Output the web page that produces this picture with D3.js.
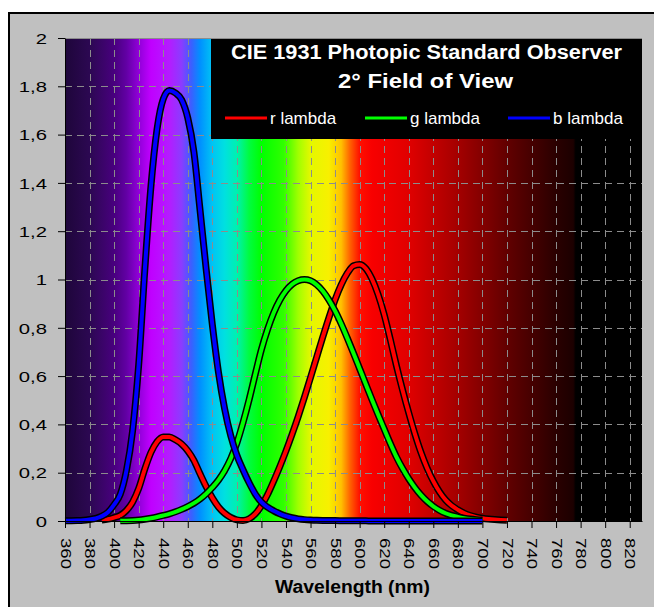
<!DOCTYPE html>
<html lang="en">

<head>
  <meta charset="utf-8">
  <title>CIE 1931 Standard Observer</title>
  <script src="https://cdn.jsdelivr.net/npm/d3@7"></script>
  <style>
    body {
      margin: 0;
      background: #ffffff;
    }

    svg text {
      font-family: "Liberation Sans", Arial, sans-serif;
    }
  </style>
</head>

<body>
  <div id="chart"></div>

  <script type="text/javascript">
    // wavelengths in nm, 5 nm steps
    var wavelengths = [360, 365, 370, 375, 380, 385, 390, 395, 400, 405, 410, 415, 420, 425, 430, 435, 440, 445,
      450, 455, 460, 465, 470, 475, 480, 485, 490, 495, 500, 505, 510, 515, 520, 525, 530, 535, 540, 545, 550, 555,
      560, 565, 570, 575, 580, 585, 590, 595, 600, 605, 610, 615, 620, 625, 630, 635, 640, 645, 650, 655, 660, 665,
      670, 675, 680, 685, 690, 695, 700, 705, 710, 715, 720];

    var rLambda = [null, null, null, null, null, null,
      0.004243, 0.007650, 0.014310, 0.023190, 0.043510, 0.077630, 0.134380, 0.214770, 0.283900, 0.328500,
      0.348280, 0.348060, 0.336200, 0.318700, 0.290800, 0.251100, 0.195360, 0.142100, 0.095640, 0.057950,
      0.032010, 0.014700, 0.004900, 0.002400, 0.009300, 0.029100, 0.063270, 0.109600, 0.165500, 0.225750,
      0.290400, 0.359700, 0.433450, 0.512050, 0.594500, 0.678400, 0.762100, 0.842500, 0.916300, 0.978600,
      1.026300, 1.056700, 1.062200, 1.045600, 1.002600, 0.938400, 0.854450, 0.751400, 0.642400, 0.541900,
      0.447900, 0.360800, 0.283500, 0.218700, 0.164900, 0.121200, 0.087400, 0.063600, 0.046770, 0.032900,
      0.022700, 0.015840, 0.011359, 0.008111, 0.005790, 0.004109, 0.002899];

    var gLambda = [null, null, null, null, null, null, null, null, null,
      0.00064, 0.00121, 0.00218, 0.00400, 0.00730, 0.01160, 0.01684, 0.02300, 0.02980, 0.03800, 0.04800,
      0.06000, 0.07390, 0.09098, 0.11260, 0.13902, 0.16930, 0.20802, 0.25860, 0.32300, 0.40730, 0.50300,
      0.60820, 0.71000, 0.79320, 0.86200, 0.91485, 0.95400, 0.98030, 0.99495, 1.00000, 0.99500, 0.97860,
      0.95200, 0.91540, 0.87000, 0.81630, 0.75700, 0.69490, 0.63100, 0.56680, 0.50300, 0.44120, 0.38100,
      0.32100, 0.26500, 0.21700, 0.17500, 0.13820, 0.10700, 0.08160, 0.06100, 0.04458, 0.03200, 0.02320,
      0.01700, 0.01192, 0.00821, 0.005723, 0.004102,
      null, null, null, null];

    var bLambda = [0.000606, 0.001086, 0.001946, 0.003486, 0.006450, 0.010550, 0.020050, 0.036210, 0.067850,
      0.110200, 0.207400, 0.371300, 0.645600, 1.039050, 1.385600, 1.622960, 1.747060, 1.782600, 1.772110,
      1.744100, 1.669200, 1.528100, 1.287640, 1.041900, 0.812950, 0.616200, 0.465180, 0.353300, 0.272000,
      0.212300, 0.158200, 0.111700, 0.078250, 0.057250, 0.042160, 0.029840, 0.020300, 0.013400, 0.008750,
      0.005750, 0.003900, 0.002750, 0.002100, 0.001800, 0.001650, 0.001400, 0.001100, 0.001000, 0.000800,
      0.000600, 0.000340, 0.000240, 0.000190, 0.000100, 0.000050, 0.000030, 0.000020, 0.000010,
      0, 0, 0, 0, 0, 0, 0, 0, 0, 0, 0,
      null, null, null, null];

    var seriesNames = ["r lambda", "g lambda", "b lambda"];
    var seriesColors = ["#ff0000", "#00ff00", "#0000ff"];

    var xTicks = [360, 380, 400, 420, 440, 460, 480, 500, 520, 540, 560, 580, 600, 620, 640, 660, 680, 700,
      720, 740, 760, 780, 800, 820];
    var yTicks = [0, 0.2, 0.4, 0.6, 0.8, 1, 1.2, 1.4, 1.6, 1.8, 2];
    var yLabels = ["0", "0,2", "0,4", "0,6", "0,8", "1", "1,2", "1,4", "1,6", "1,8", "2"];

    // background spectrum, wavelength -> colour
    var spectrumStops = [
      [360, "#1e063a"], [380, "#2c0852"], [400, "#48007e"], [410, "#6200a4"], [420, "#9000d8"],
      [430, "#c000ff"], [445, "#b41cff"], [455, "#8a3cff"], [463, "#3a60ff"], [470, "#0090ff"],
      [480, "#00c4f4"], [490, "#00e0e0"], [500, "#00f0b0"], [510, "#00fc40"], [520, "#00ff00"],
      [538, "#30ff00"], [550, "#a0ff00"], [560, "#e4f800"], [575, "#f8f000"], [585, "#ffc000"],
      [592, "#ff6400"], [600, "#ff1000"], [610, "#f80000"], [640, "#e00000"], [680, "#a40000"],
      [720, "#620000"], [760, "#2a0000"], [774, "#1c0000"], [776, "#000000"], [830, "#000000"]
    ];

    var width = 654;
    var height = 607;
    var plot = { left: 65, right: 642, top: 38, bottom: 521 };

    var svg = d3.select('#chart')
      .append('svg')
      .attr('width', width)
      .attr('height', height);

    // grey frame
    svg.append('rect')
      .attr('x', 9)
      .attr('y', 13)
      .attr('width', width + 20)
      .attr('height', height + 20)
      .style('fill', '#c0c0c0')
      .style('stroke', '#000')
      .style('stroke-width', 2);

    var x = d3.scaleLinear()
      .domain([360, 830])
      .range([plot.left, plot.right]);
    var y = d3.scaleLinear()
      .domain([0, 2])
      .range([plot.bottom, plot.top]);

    var grad = svg.append('defs')
      .append('linearGradient')
      .attr('id', 'spectrum')
      .attr('x1', 0).attr('x2', 1).attr('y1', 0).attr('y2', 0);
    grad.selectAll('stop')
      .data(spectrumStops)
      .enter()
      .append('stop')
      .attr('offset', d => (d[0] - 360) / (830 - 360))
      .attr('stop-color', d => d[1]);

    svg.append('rect')
      .attr('x', plot.left)
      .attr('y', plot.top)
      .attr('width', plot.right - plot.left)
      .attr('height', plot.bottom - plot.top)
      .style('fill', 'url(#spectrum)');

    // dashed grid
    var grid = svg.append('g')
      .style('stroke', '#8c8c8c')
      .style('stroke-width', 1)
      .style('stroke-dasharray', '7,5');
    grid.selectAll('.vline')
      .data(xTicks.slice(1))
      .enter()
      .append('line')
      .attr('x1', d => Math.round(x(d)) + 0.5)
      .attr('x2', d => Math.round(x(d)) + 0.5)
      .attr('y1', plot.top)
      .attr('y2', plot.bottom);
    grid.selectAll('.hline')
      .data(yTicks.slice(1, -1))
      .enter()
      .append('line')
      .attr('x1', plot.left)
      .attr('x2', plot.right)
      .attr('y1', d => Math.round(y(d)) + 0.5)
      .attr('y2', d => Math.round(y(d)) + 0.5);
    svg.append('line')
      .attr('x1', plot.left)
      .attr('x2', plot.right)
      .attr('y1', plot.top + 0.5)
      .attr('y2', plot.top + 0.5)
      .style('stroke', '#8c8c8c');

    // title box
    svg.append('rect')
      .attr('x', 211)
      .attr('y', 39)
      .attr('width', plot.right - 211)
      .attr('height', 100)
      .style('fill', '#000');

    svg.append('text')
      .attr('x', 231)
      .attr('y', 59)
      .attr('textLength', 391)
      .attr('lengthAdjust', 'spacingAndGlyphs')
      .style('font-size', '20px')
      .style('font-weight', 'bold')
      .style('fill', '#fff')
      .text('CIE 1931 Photopic Standard Observer');
    svg.append('text')
      .attr('x', 338)
      .attr('y', 88)
      .attr('textLength', 175)
      .attr('lengthAdjust', 'spacingAndGlyphs')
      .style('font-size', '20px')
      .style('font-weight', 'bold')
      .style('fill', '#fff')
      .text('2\u00b0  Field of View');

    // legend
    var legendX = [225, 365, 508];
    var legend = svg.selectAll('.legend')
      .data(seriesNames)
      .enter()
      .append('g')
      .attr('transform', (d, i) => 'translate(' + legendX[i] + ',118)');
    legend.append('line')
      .attr('x1', 0)
      .attr('x2', 42)
      .style('stroke', (d, i) => seriesColors[i])
      .style('stroke-width', 3);
    legend.append('text')
      .attr('x', 45)
      .attr('y', 6)
      .style('font-size', '17px')
      .style('fill', '#fff')
      .text(d => d);

    // curves
    var series = [rLambda, gLambda, bLambda].map(function (vals) {
      return wavelengths.map((w, i) => ({ w: w, v: vals[i] }));
    });

    var line = d3.line()
      .defined(d => d.v != null)
      .x(d => x(d.w))
      .y(d => y(d.v))
      .curve(d3.curveMonotoneX);

    series.forEach(function (data, i) {
      svg.append('path')
        .datum(data)
        .attr('d', line)
        .style('fill', 'none')
        .style('stroke', '#000')
        .style('stroke-width', 7)
        .style('stroke-linejoin', 'round');
      svg.append('path')
        .datum(data)
        .attr('d', line)
        .style('fill', 'none')
        .style('stroke', seriesColors[i])
        .style('stroke-width', 4)
        .style('stroke-linejoin', 'round');
    });

    // axes
    var xAxis = svg.append('g')
      .attr('transform', 'translate(0,' + plot.bottom + ')')
      .call(d3.axisBottom(x).tickValues(xTicks).tickSize(7).tickSizeOuter(0));
    xAxis.selectAll('text')
      .attr('x', 0)
      .attr('y', 0)
      .attr('dy', '0.35em')
      .attr('transform', 'translate(0,17) rotate(90) scale(1.33,1)')
      .style('text-anchor', 'start')
      .style('font-size', '14px')
      .style('fill', '#000');

    var yAxis = svg.append('g')
      .attr('transform', 'translate(' + plot.left + ',0)')
      .call(d3.axisLeft(y).tickValues(yTicks).tickSize(7).tickSizeOuter(0)
        .tickFormat((d, i) => yLabels[i]));
    yAxis.selectAll('text')
      .attr('x', 0)
      .attr('dy', '0.35em')
      .attr('transform', 'translate(-18,0) scale(1.35,1)')
      .style('text-anchor', 'end')
      .style('font-size', '15px')
      .style('fill', '#000');

    svg.selectAll('.domain, .tick line')
      .style('stroke', '#000');

    svg.append('text')
      .attr('x', 275)
      .attr('y', 593)
      .attr('textLength', 155)
      .attr('lengthAdjust', 'spacingAndGlyphs')
      .style('font-size', '18px')
      .style('font-weight', 'bold')
      .text('Wavelength (nm)');
  </script>
</body>

</html>
